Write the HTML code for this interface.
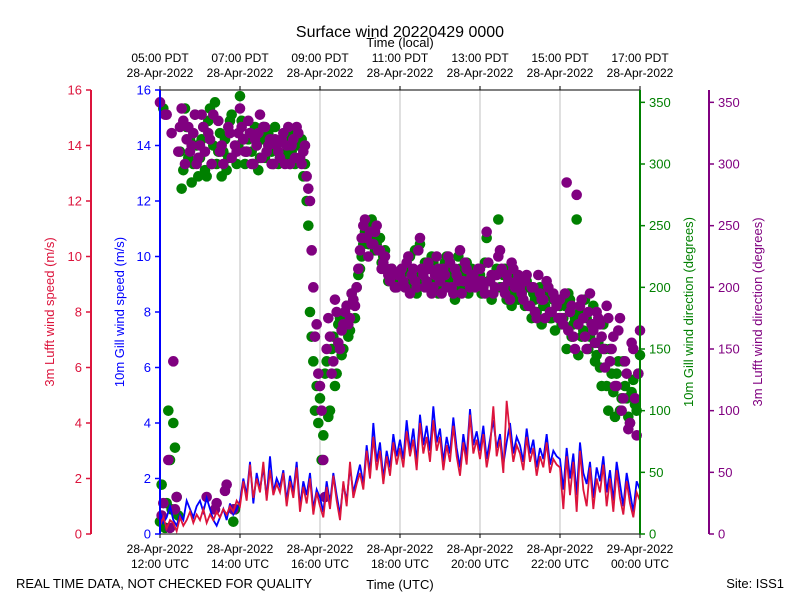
<!DOCTYPE html>
<html><head><meta charset="utf-8"><style>
body{margin:0;background:#fff}
svg{display:block;font-family:"Liberation Sans","DejaVu Sans",sans-serif}
</style></head><body>
<svg id="c" width="800" height="600" viewBox="0 0 800 600"></svg>
<script>
const topTickLabels=[["05:00 PDT","28-Apr-2022"],["07:00 PDT","28-Apr-2022"],["09:00 PDT","28-Apr-2022"],["11:00 PDT","28-Apr-2022"],["13:00 PDT","28-Apr-2022"],["15:00 PDT","28-Apr-2022"],["17:00 PDT","28-Apr-2022"]];
const bottomTickLabels=[["28-Apr-2022","12:00 UTC"],["28-Apr-2022","14:00 UTC"],["28-Apr-2022","16:00 UTC"],["28-Apr-2022","18:00 UTC"],["28-Apr-2022","20:00 UTC"],["28-Apr-2022","22:00 UTC"],["29-Apr-2022","00:00 UTC"]];
const speedTicks=[0,2,4,6,8,10,12,14,16];
const dirTicks=[0,50,100,150,200,250,300,350];
const gillSpeed=[0.8,0.4,0.6,1.0,0.5,0.3,0.7,0.5,1.2,0.9,0.6,1.0,
1.2,0.8,1.3,0.9,0.5,0.3,0.6,0.9,0.5,1.1,0.7,0.9,
1.2,2.0,1.4,2.6,1.1,2.2,1.6,2.4,1.3,2.8,1.5,2.0,
1.7,2.3,1.2,2.1,1.5,2.6,1.0,1.9,1.4,2.2,0.9,1.6,
1.3,0.8,1.9,1.1,2.2,1.4,0.7,1.8,1.2,2.4,1.5,2.0,
2.5,1.8,3.2,2.2,4.0,2.6,3.3,2.0,3.0,2.4,3.6,2.8,
3.4,2.7,4.1,3.0,3.8,2.6,4.3,3.2,3.9,3.0,4.6,3.3,
3.8,2.6,3.5,2.9,4.2,3.1,2.4,3.6,2.8,4.5,3.2,3.7,
3.0,3.9,2.7,3.4,4.1,3.1,3.6,2.5,3.3,4.0,2.9,3.5,
3.2,2.6,3.8,2.9,3.4,2.4,3.1,2.7,3.6,2.5,3.0,2.8,
2.7,1.6,3.1,2.0,2.9,1.4,3.3,2.2,1.8,2.6,1.3,2.4,
1.9,2.8,1.5,2.3,1.2,2.6,1.8,1.0,2.2,1.5,0.8,1.9,1.6];
const lufftSpeed=[0.3,0.6,0.2,0.5,0.4,0.1,0.6,0.3,0.5,0.8,0.4,0.7,
0.5,0.9,0.4,0.7,0.5,0.8,0.6,0.9,0.7,1.0,0.8,1.2,
1.0,1.9,1.2,2.5,1.3,2.0,1.5,2.6,1.2,2.3,1.4,1.8,
1.5,2.2,1.0,1.9,1.3,2.4,0.8,1.7,1.1,2.0,0.7,1.5,
1.0,0.6,1.7,0.9,2.1,1.2,0.5,1.9,1.0,2.6,1.3,1.8,
2.2,1.6,3.0,2.0,3.5,2.3,3.0,1.8,2.8,2.1,3.3,2.5,
3.1,2.4,3.7,2.8,3.4,2.3,4.0,2.9,3.5,2.6,4.1,3.0,
3.5,2.3,3.2,2.6,3.9,2.8,2.1,3.3,2.5,4.3,2.9,3.4,
2.7,3.6,2.4,3.1,4.6,2.8,3.4,2.2,4.8,3.6,2.6,3.2,
2.9,2.3,3.5,2.6,3.1,2.1,2.8,2.4,3.3,2.2,2.7,2.5,
2.4,0.9,2.8,1.4,2.6,0.8,3.0,1.6,1.0,2.4,0.9,2.0,
1.5,2.5,1.0,2.0,0.8,2.3,1.3,0.7,1.9,1.1,0.6,1.5,1.2];
const gillDir=[10,345,25,60,90,30,310,295,330,320,300,315,
305,330,290,345,315,300,325,310,295,335,10,300,
355,320,310,325,300,315,305,330,310,320,300,315,
305,320,310,300,315,325,305,290,270,180,140,120,
110,80,140,100,160,130,175,150,185,165,190,200,
215,235,250,240,245,235,240,225,215,210,205,210,
205,215,200,225,210,195,235,205,215,200,220,210,
215,205,225,200,210,195,215,205,220,200,210,205,
210,200,240,205,195,215,200,210,190,205,200,195,
200,190,205,185,195,180,200,185,195,175,190,185,
185,175,150,190,170,255,180,165,175,160,185,145,
135,170,120,150,115,130,100,140,110,90,125,100,145];
const gillDirMid=[40,5,100,20,70,15,280,345,305,285,340,290,
320,295,335,300,350,310,290,320,305,340,20,315,
335,300,320,310,330,295,320,305,325,310,330,300,
320,305,325,310,300,315,320,300,250,160,100,90,
60,130,95,150,120,170,145,180,160,195,175,210,
225,245,235,255,230,240,220,230,205,215,200,205,
210,200,215,205,230,200,210,220,200,225,205,195,
200,220,205,215,190,225,200,210,195,215,205,200,
195,220,205,190,210,255,200,215,195,185,210,190,
195,185,200,175,190,195,170,185,200,175,165,190,
170,185,195,160,175,145,160,190,150,170,140,155,
120,150,100,130,95,140,110,120,95,115,105,130];
const lufftDir=[350,25,340,5,140,30,330,335,320,310,325,300,
315,330,30,320,340,25,310,300,40,325,20,310,
345,320,310,325,300,315,340,330,310,320,300,315,
305,325,315,300,320,330,305,310,290,270,200,170,
120,60,150,160,140,180,150,170,185,175,190,200,
230,250,240,245,235,250,230,220,215,205,210,200,
210,205,220,195,215,200,240,210,205,215,200,225,
205,215,200,220,195,210,230,205,215,200,210,205,
215,200,245,205,195,210,230,200,210,190,215,205,
200,190,210,185,200,175,195,190,205,180,195,185,
190,170,285,180,160,275,185,175,150,195,165,180,
170,150,185,140,160,120,175,110,130,90,150,80,165];
const lufftDirMid=[15,340,60,325,20,310,345,300,330,315,340,305,
340,310,325,300,20,335,315,35,330,305,315,325,
330,310,335,300,320,325,305,330,315,300,320,310,
320,300,330,315,305,325,300,315,280,230,160,130,
100,30,175,130,190,155,165,180,170,195,185,215,
240,255,225,235,245,230,215,225,210,215,200,210,
215,200,225,210,205,230,215,200,220,195,210,215,
195,210,225,200,215,205,195,220,205,210,200,215,
205,195,220,210,200,225,215,195,205,220,200,210,
195,205,185,200,180,210,190,175,200,180,190,175,
175,195,165,185,150,170,190,160,180,170,155,175,
160,135,175,150,120,165,100,140,85,155,110,130];

const X0=160,X1=640,Y0=534,Y1=90;
const N=gillSpeed.length-1;
const xAt=i=>X0+(X1-X0)*i/N;
const ySpd=v=>Y0-(Y0-Y1)*v/16;
const yDir=d=>Y0-(Y0-Y1)*d/360;
const svg=document.getElementById('c');
const NS='http://www.w3.org/2000/svg';
function mk(tag,attrs,parent){const e=document.createElementNS(NS,tag);for(const k in attrs)e.setAttribute(k,attrs[k]);(parent||svg).appendChild(e);return e;}
function txt(s,attrs,parent){const e=mk('text',attrs,parent);e.textContent=s;return e;}

const grid=mk('g',{});


for(let k=1;k<6;k++){const x=X0+k*80;mk('line',{x1:x,x2:x,y1:Y1,y2:Y0,stroke:'#b0b0b0','stroke-width':0.8},grid);}

function scatter(arr,offset,color,name){
 const g=mk('g',{fill:color});
 
 
 arr.forEach((d,i)=>{const c=mk('circle',{cx:xAt(i+offset),cy:yDir(d),r:5.3},g);
  
  });
}
scatter(gillDir,0,'#008000','gill-direction-series');
scatter(gillDirMid,0.5,'#008000','gill-direction-series-mid');
scatter(lufftDir,0,'#800080','lufft-direction-series');
scatter(lufftDirMid,0.5,'#800080','lufft-direction-series-mid');

const bl=mk('polyline',{points:gillSpeed.map((v,i)=>xAt(i)+','+ySpd(v)).join(' '),fill:'none',stroke:'#0000ff','stroke-width':1.8});


const rl=mk('polyline',{points:lufftSpeed.map((v,i)=>xAt(i)+','+ySpd(v)).join(' '),fill:'none',stroke:'#dc143c','stroke-width':1.8});



mk('line',{x1:X0,x2:X1,y1:Y1,y2:Y1,stroke:'#000','stroke-width':1});
mk('line',{x1:X0,x2:X1,y1:Y0,y2:Y0,stroke:'#000','stroke-width':1});

bottomTickLabels.forEach((l,k)=>{const x=X0+k*80;
mk('line',{x1:x,x2:x,y1:Y0,y2:Y0+4,stroke:'#000'});
const t=txt('',{x:x,y:553,'font-size':12,'text-anchor':'middle'});


mk('tspan',{x:x,dy:0},t).textContent=l[0];mk('tspan',{x:x,dy:15},t).textContent=l[1];});
topTickLabels.forEach((l,k)=>{const x=X0+k*80;
mk('line',{x1:x,x2:x,y1:Y1,y2:Y1-4,stroke:'#000'});
const t=txt('',{x:x,y:62,'font-size':12,'text-anchor':'middle'});


mk('tspan',{x:x,dy:0},t).textContent=l[0];mk('tspan',{x:x,dy:15},t).textContent=l[1];});

function yaxis(xs,color,ticks,yf,side,name){
 const g=mk('g',{});
 
 
 mk('line',{x1:xs,x2:xs,y1:Y1,y2:Y0,stroke:color,'stroke-width':2},g);
 ticks.forEach(v=>{const y=yf(v);
  mk('line',{x1:xs,x2:xs+side*5,y1:y,y2:y,stroke:color,'stroke-width':1.5},g);
  const t=txt(String(v),{x:xs+side*9,y:y+4.5,'font-size':13,fill:color,'text-anchor':side<0?'end':'start'},g);
  
  });
}
yaxis(91,'#dc143c',speedTicks,ySpd,-1,'lufft-speed-axis');
yaxis(160,'#0000ff',speedTicks,ySpd,-1,'gill-speed-axis');
yaxis(640,'#008000',dirTicks,yDir,1,'gill-direction-axis');
yaxis(709,'#800080',dirTicks,yDir,1,'lufft-direction-axis');
</script>
<div style="position:absolute;left:0;top:0;width:800px;height:600px;pointer-events:none">
<svg width="800" height="600" style="position:absolute;left:0;top:0;font-family:'Liberation Sans','DejaVu Sans',sans-serif">
<text x="400" y="37" font-size="16" text-anchor="middle">Surface wind 20220429 0000</text>
<text x="400" y="47" font-size="13" text-anchor="middle">Time (local)</text>
<text x="400" y="589" font-size="13" text-anchor="middle">Time (UTC)</text>
<text x="16" y="588" font-size="13">REAL TIME DATA, NOT CHECKED FOR QUALITY</text>
<text x="784" y="588" font-size="13" text-anchor="end">Site: ISS1</text>
<text transform="translate(54,312) rotate(-90)" font-size="13" fill="#dc143c" text-anchor="middle">3m Lufft wind speed (m/s)</text>
<text transform="translate(124,312) rotate(-90)" font-size="13" fill="#0000ff" text-anchor="middle">10m Gill wind speed (m/s)</text>
<text transform="translate(693,312) rotate(-90)" font-size="13" fill="#008000" text-anchor="middle">10m Gill wind direction (degrees)</text>
<text transform="translate(762,312) rotate(-90)" font-size="13" fill="#800080" text-anchor="middle">3m Lufft wind direction (degrees)</text>
</svg></div>
</body></html>
